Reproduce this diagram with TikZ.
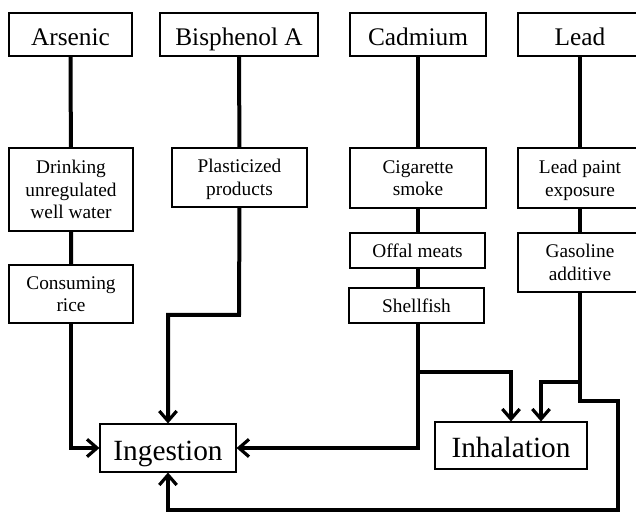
\documentclass[tikz,border=0pt]{standalone}
\usepackage{fontspec}
\setmainfont{Liberation Serif}
\usetikzlibrary{arrows.meta}
\usetikzlibrary{calc}

\begin{document}
\begin{tikzpicture}[x=0.75pt,y=0.75pt,yscale=-1,xscale=1,
    box/.style={draw, line width=0.8pt, inner sep=0.75pt, align=center},
    metalbox/.style={box, minimum height=32.25pt, text height=18.5pt, text depth=1.5pt, font=\fontsize{19}{22}\selectfont},
    sourcebox/.style={box, text depth=-3pt, font=\fontsize{14.5}{17}\selectfont},
    routebox/.style={box, text height=19.5pt, text depth=1.5pt, font=\fontsize{22}{26}\selectfont},
    link/.style={line width=3pt, line join=miter},
    route/.style={link, -{Straight Barb[length=7.5pt,width=13pt,line width=2.4pt]}}]
        \useasboundingbox (0,0) rectangle (636,513);

        % Metal Nodes
        \node (arsenic)   at (70.5,34.5) [metalbox, minimum width=92.25pt] {Arsenic};
        \node (bisphenol) at (239,34.5)  [metalbox, minimum width=118.5pt] {Bisphenol A};
        \node (cadmium)   at (418,34.5)  [metalbox, minimum width=102pt]   {Cadmium};
        \node (lead)      at (580,34.5)  [metalbox, minimum width=93pt]    {Lead};

        % Source Nodes
        \node (drinking)   at (71,189.5)   [sourcebox, minimum width=93pt, minimum height=62.25pt] {Drinking\\unregulated\\well water};
        \node (rice)       at (71,294)     [sourcebox, minimum width=93pt, minimum height=43.5pt] {Consuming\\rice};
        \node (plastic)    at (239.5,177.5) [sourcebox, minimum width=101.25pt, minimum height=44.25pt] {Plasticized\\products};
        \node (cigarette)  at (418,178)    [sourcebox, minimum width=102pt, minimum height=45pt] {Cigarette\\smoke};
        \node (offal)      at (417.5,250.5) [sourcebox, minimum width=101.25pt, minimum height=26.25pt] {Offal meats};
        \node (shellfish)  at (416.5,305.5) [sourcebox, minimum width=101.25pt, minimum height=26.25pt] {Shellfish};
        \node (leadpaint)  at (580,178)    [sourcebox, minimum width=93pt, minimum height=45pt] {Lead paint\\exposure};
        \node (gasoline)   at (580,262.5)  [sourcebox, minimum width=93pt, minimum height=44.25pt] {Gasoline\\additive};

        % Route Nodes
        \node (ingestion)  at (168,448)    [routebox, minimum width=102pt, minimum height=36pt] {Ingestion};
        \node (inhalation) at (511,445.5)  [routebox, minimum width=114pt, minimum height=35.25pt] {Inhalation};

        % Turning points
        \coordinate (bpaturn) at (239,315);
        \coordinate (cdsplit) at (418,372);
        \coordinate (pbsplit) at (580,382);
        \coordinate (pbturn)  at (580,401);
        \coordinate (pbcorner) at (618,510);

        %Straight Lines
        \draw [link] (arsenic) -- (drinking) -- (rice);
        \draw [link] (bisphenol) -- (plastic);
        \draw [link] (cadmium) -- (cigarette) -- (offal.north -| cadmium.south);
        \draw [link] (offal.south -| cadmium.south) -- (shellfish.north -| cadmium.south);
        \draw [link] (lead) -- (leadpaint) -- (gasoline);

        %Arrows
        \draw [route] (rice.south) |- (ingestion.west);
        \draw [route] (plastic.south) -- (bpaturn) -| (ingestion.north);
        \draw [route] (shellfish.south -| cadmium.south) |- (ingestion.east);
        \draw [route] (cdsplit) -| (inhalation.north);
        \draw [route] (gasoline.south) -- (pbturn) -| (pbcorner) -| (ingestion.south);
        \draw [route] (pbsplit) -| ($(inhalation.north)+(30,0)$);
\end{tikzpicture}
\end{document}
